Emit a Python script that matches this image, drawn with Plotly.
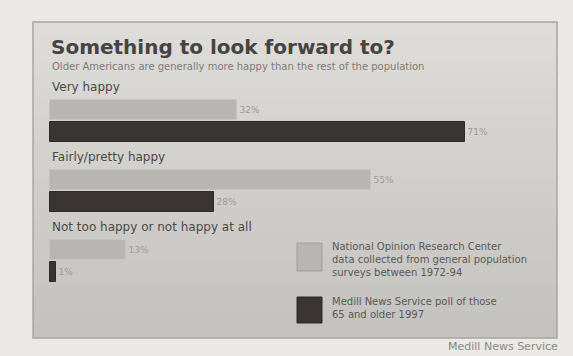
import plotly.graph_objects as go

# --- data -------------------------------------------------------------
categories = ["Very happy", "Fairly/pretty happy", "Not too happy or not happy at all"]
norc_values = [32, 55, 13]     # National Opinion Research Center, 1972-94
medill_values = [71, 28, 1]    # Medill News Service poll, 65 and older
series_names = [
    "National Opinion Research Center<br>data collected from general population<br>surveys between 1972-94",
    "Medill News Service poll of those<br>65 and older 1997",
]

W, H = 573, 356
NORC_COLOR = "#b8b6b3"
MEDILL_COLOR = "#3a3434"

# Group layout on the y axis: each category is one unit tall
group_px = 70.0
first_label_px = 88.0
y_top = -first_label_px / group_px
y_bot = (H - first_label_px) / group_px
norc_off, medill_off = 0.31, 0.63
bar_w = 0.28

# x scale: bars start 50 px from the left, 71% ends near 465 px
px_per_unit = 415.0 / 71.0
x_lo = -50.0 / px_per_unit
x_hi = (W - 50.0) / px_per_unit

idx = list(range(len(categories)))

fig = go.Figure()
for vals, off, color, edge in [(norc_values, norc_off, NORC_COLOR, "#c6c4c1"),
                               (medill_values, medill_off, MEDILL_COLOR, "#2e2a2a")]:
    fig.add_trace(go.Bar(
        orientation="h", x=vals, y=[i + off for i in idx], width=bar_w,
        marker=dict(color=color, line=dict(color=edge, width=1)),
        text=[f"{v}%" for v in vals], textposition="outside",
        textfont=dict(size=9, color="#9d9b98", family="DejaVu Sans"),
        cliponaxis=False, showlegend=False,
    ))

shapes = []
# panel with a soft vertical gradient (strips overlap to avoid seams)
px0, px1, py0, py1 = 33, 557, 22, 338
n_strips = 24
top_rgb = (222, 220, 216)
bot_rgb = (196, 194, 190)
for k in range(n_strips):
    t = k / (n_strips - 1)
    c = tuple(int(round(a + (b - a) * t)) for a, b in zip(top_rgb, bot_rgb))
    y0 = py0 + (py1 - py0) * k / n_strips
    y1 = min(py1, py0 + (py1 - py0) * (k + 1) / n_strips + 2)
    shapes.append(dict(type="rect", xref="paper", yref="paper", layer="below",
                       x0=px0 / W, x1=px1 / W, y0=1 - y1 / H, y1=1 - y0 / H,
                       fillcolor="rgb(%d,%d,%d)" % c, line=dict(width=0)))
shapes.append(dict(type="rect", xref="paper", yref="paper", layer="below",
                   x0=px0 / W, x1=px1 / W, y0=1 - py1 / H, y1=1 - py0 / H,
                   fillcolor="rgba(0,0,0,0)", line=dict(color="#a9a7a3", width=1.5)))

annotations = []


def text_px(x, y, s, size, color, bold=False, anchor="left", yanchor="middle", family="DejaVu Sans"):
    annotations.append(dict(
        xref="paper", yref="paper", x=x / W, y=1 - y / H, text=f"<b>{s}</b>" if bold else s,
        showarrow=False, xanchor=anchor, yanchor=yanchor, align="left",
        font=dict(size=size, color=color, family=family)))


text_px(49, 47, "Something to look forward to?", 20, "#454443", bold=True)
text_px(50, 66, "Older Americans are generally more happy than the rest of the population", 10, "#7d7b78")
text_px(560, 346, "Medill News Service", 11, "#8a8885", anchor="right")

# category headings sit on the y axis just above each pair of bars
for i, name in enumerate(categories):
    annotations.append(dict(
        xref="paper", yref="y", x=50 / W, y=i - 0.02, text=name, showarrow=False,
        xanchor="left", yanchor="middle",
        font=dict(size=12, color="#4a4947", family="DejaVu Sans")))

# legend swatches and labels
legend_items = [(NORC_COLOR, "#9f9d9a", 243, 271, 259), (MEDILL_COLOR, "#2e2a2a", 297, 323, 308)]
for (fill, edge, y0, y1, ty), name in zip(legend_items, series_names):
    shapes.append(dict(type="rect", xref="paper", yref="paper",
                       x0=297 / W, x1=322 / W, y0=1 - y1 / H, y1=1 - y0 / H,
                       fillcolor=fill, line=dict(color=edge, width=1)))
    text_px(330, ty, name, 10, "#5a5957")

fig.update_layout(
    width=W, height=H, margin=dict(l=0, r=0, t=0, b=0),
    paper_bgcolor="#ebe9e5", plot_bgcolor="rgba(0,0,0,0)",
    barmode="overlay", bargap=0,
    xaxis=dict(range=[x_lo, x_hi], visible=False, fixedrange=True),
    yaxis=dict(range=[y_bot, y_top], visible=False, fixedrange=True),
    shapes=shapes, annotations=annotations,
    font=dict(family="DejaVu Sans"),
)

fig.write_html("out.html")
